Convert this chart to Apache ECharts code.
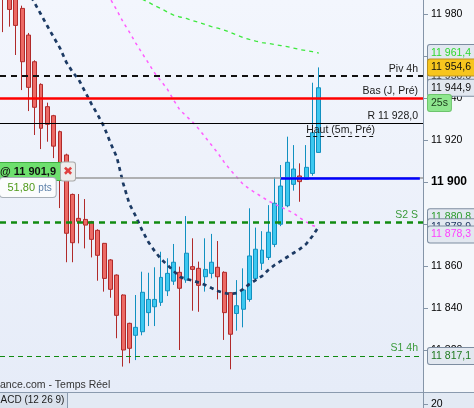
<!DOCTYPE html>
<html><head><meta charset="utf-8">
<script src="https://cdn.jsdelivr.net/npm/echarts@6/dist/echarts.min.js"></script>
<style>html,body{margin:0;padding:0;background:#f4f7fb}#c{width:474px;height:408px}</style>
</head><body><div id="c"></div>
<script>
const FONT = 'Liberation Sans, Arial, sans-serif';
const categories = Array.from({length: 67}, (_, i) => 'b' + i);

const opens  = [11995, 11990, 11988, 11982.7, 11970, 11957.3, 11946.5, 11935.9, 11931.6, 11924, 11912.9, 11894.1, 11882.7, 11882.2, 11881.1, 11877, 11870.8, 11862.9, 11855.7, 11846.2, 11832.7, 11827, 11828.7, 11837.8, 11840.6, 11842.7, 11848.2, 11852.8, 11857, 11853.3, 11859.7, 11858.9, 11854.9, 11856.5, 11859.4, 11857, 11847.3, 11837.4, 11839.4, 11844.1, 11854.1, 11861.3, 11864.1, 11870.3, 11879.9, 11888.7, 11898.9, 11902.9, 11901.3, 11904.1, 11914.1];
const closes = [11990, 11982.2, 11974.6, 11957.3, 11945.1, 11935.6, 11925.6, 11927.5, 11917.1, 11901, 11875.6, 11871.1, 11881.3, 11879.5, 11872.7, 11865.1, 11854.1, 11848.9, 11836.5, 11820, 11820.8, 11830.8, 11847.5, 11844.1, 11844.1, 11854.6, 11856.5, 11861.8, 11849.4, 11866.1, 11858.4, 11850.8, 11858.4, 11861.8, 11854.9, 11837.8, 11827.5, 11841.1, 11848.6, 11864.8, 11868, 11867.6, 11876.1, 11889.9, 11898.1, 11909.4, 11906.2, 11900.2, 11907, 11923.5, 11944.9];
const lows   = [11971.4, 11974, 11960.5, 11943.8, 11933.8, 11922.4, 11915.7, 11919.2, 11911.4, 11887.6, 11861.8, 11861.8, 11870.8, 11868.4, 11864.1, 11853, 11847.8, 11844.9, 11825.6, 11812.1, 11813.7, 11815.2, 11827, 11831.4, 11831.4, 11841, 11845.7, 11851, 11820, 11852, 11838.7, 11838.2, 11847.8, 11854.1, 11844.1, 11824.8, 11810.8, 11829.2, 11830.8, 11843, 11853, 11858.1, 11862.9, 11869, 11879, 11888, 11895.9, 11890.6, 11901, 11903, 11914];
const highs  = [11998, 11992, 11990, 11984, 11971, 11958, 11947, 11937.8, 11932, 11924.5, 11913.5, 11894.5, 11894.3, 11891.9, 11881.5, 11877.5, 11871, 11863.3, 11856, 11846.5, 11833, 11846.2, 11857.3, 11856.8, 11859.4, 11866.8, 11863.7, 11870.5, 11859.7, 11883.8, 11873.2, 11862.1, 11873.2, 11875.3, 11871.9, 11857.5, 11847.5, 11853.3, 11858.9, 11887.5, 11878.3, 11876.6, 11889, 11902.2, 11908.1, 11921.6, 11917.6, 11908.9, 11917.6, 11947.3, 11954.6];

const maNavyStart = 2;
const maNavy = [12001.4, 11996.2, 11990.7, 11985.2, 11979.8, 11974.3, 11969.0, 11963.8, 11957.1, 11952.4, 11948.6, 11942.9, 11937.1, 11931.9, 11926.2, 11918.6, 11911.9, 11899.5, 11889.5, 11883.8, 11877.1, 11871.4, 11867.1, 11863.3, 11860.5, 11857.6, 11854.8, 11853.8, 11853.1, 11852.1, 11851.0, 11849.5, 11848.1, 11847.1, 11846.7, 11847.1, 11849.0, 11851.4, 11853.3, 11855.2, 11858.1, 11860.5, 11862.4, 11864.3, 11866.2, 11868.1, 11870.5, 11874.3, 11878.9];
const maPinkStart = 16;
const maPink = [11992.4, 11987.1, 11981.9, 11976.2, 11971.4, 11966.2, 11961.4, 11956.7, 11951.9, 11948.1, 11944.3, 11939.0, 11934.3, 11931.4, 11928.6, 11925.2, 11921.4, 11917.6, 11913.8, 11909.5, 11905.7, 11902.4, 11899.0, 11896.7, 11894.8, 11892.9, 11891.0, 11889.5, 11888.1, 11886.7, 11885.2, 11882.9, 11881.0, 11879.3, 11878.3];
const maGreenStart = 22;
const maGreen = [11987.1, 11985.7, 11984.0, 11982.6, 11981.0, 11979.5, 11978.6, 11977.9, 11976.9, 11976.0, 11975.0, 11974.0, 11973.3, 11972.4, 11971.2, 11970.0, 11968.8, 11967.9, 11967.1, 11966.4, 11966.0, 11965.5, 11965.0, 11964.5, 11963.8, 11963.1, 11962.6, 11962.1, 11961.4];

const yMin = 11800, yMax = 11986.7, yStep = 20;

const levelPiv4h = 11950.6;
const levelBasJ = 11940.1;
const levelR = 11928.0;
const levelHaut5m = 11921.6;
const levelOrder = 11901.9;
const levelS2 = 11880.8;
const levelS1 = 11817.1;
const hautStartIdx = 48, hautEndIdx = 59, blueStartIdx = 44;
const orderPts = 51.80;
const timerText = '25s';

function fmt(v, d) {
  const s = v.toFixed(d); const parts = s.split('.');
  const ii = parts[0].replace(/\B(?=(\d{3})+(?!\d))/g, ' ');
  return parts[1] ? ii + ',' + parts[1] : ii;
}
function pad(start, arr) { return Array(start).fill('-').concat(arr); }

const lastClose = closes[closes.length - 1];
const lastHigh = highs[highs.length - 1];
const navyEnd = maNavy[maNavy.length - 1];
const pinkEnd = maPink[maPink.length - 1];
const greenEnd = maGreen[maGreen.length - 1];
const PXV = 392 / (yMax - yMin); // px per unit, used only for label stacking
const shift = px => -px / PXV;

const candleData = opens.map((o, i) => [o, closes[i], lows[i], highs[i]]);

const T = 'rgba(0,0,0,0)';
function inLabel(text, pos, color, dist) {
  return {show: true, position: pos, formatter: text, color: color, fontSize: 10.5, fontFamily: FONT, distance: dist};
}
function boxItem(value, text, color, bg, border, dy) {
  return {yAxis: value + (dy ? shift(dy) : 0), lineStyle: {color: T, width: 0},
    label: {show: true, position: 'end', distance: 5, formatter: text, color: color,
      backgroundColor: bg || '#e2e8f0', borderColor: border || '#7d8da0', borderWidth: 1, borderRadius: 2,
      padding: [2, 14, 1, 3], lineHeight: 13, fontSize: 10.5, fontFamily: FONT}};
}

const markData = [
  {yAxis: levelOrder, lineStyle: {color: '#9a9a9a', width: 1.5, type: 'solid'},
    label: {show: true, position: 'insideStartTop', distance: [0, 0], fontFamily: FONT,
      formatter: '{a|@ ' + fmt(levelOrder, 1) + '}{b|\u2716}',
      rich: {
        a: {fontWeight: 'bold', fontSize: 11, color: '#111', backgroundColor: '#6ee06e', borderColor: '#3fae3f', borderWidth: 1, padding: [3, 5, 3, 0], lineHeight: 13},
        b: {fontSize: 12, color: '#e04040', backgroundColor: '#ededed', borderColor: '#a8a8a8', borderWidth: 1, borderRadius: 2, padding: [3, 2, 3, 2], lineHeight: 13}
      }}},
  {yAxis: levelOrder, lineStyle: {color: T, width: 0},
    label: {show: true, position: 'insideStartBottom', distance: [0, 0], fontFamily: FONT,
      formatter: '{g|' + orderPts.toFixed(2).replace('.', ',') + '} {p|pts}',
      backgroundColor: '#fbfcfd', borderColor: '#a8b0b8', borderWidth: 1, borderRadius: 3, padding: [4, 4, 3, 7.5],
      rich: {g: {fontSize: 11, color: '#4f9a1a', lineHeight: 12}, p: {fontSize: 10, color: '#5a7fa8', lineHeight: 12}}}},
  [{coord: [blueStartIdx, levelOrder], lineStyle: {color: '#0000ff', width: 2.5, type: 'solid'}},
   {coord: [categories.length - 1, levelOrder]}],
  {yAxis: levelPiv4h, lineStyle: {color: '#111', width: 2, type: [6, 5]}, label: inLabel('Piv 4h', 'insideEndTop', '#1a1a1a', [5, 1])},
  {yAxis: levelBasJ, lineStyle: {color: '#ff0000', width: 2.5, type: 'solid'}, label: inLabel('Bas (J, Pré)', 'insideEndTop', '#1a1a1a', [5, 1])},
  {yAxis: levelR, lineStyle: {color: '#000', width: 1, type: 'solid'}, label: inLabel('R ' + fmt(levelR, 1), 'insideEndTop', '#1a1a1a', [5, 2])},
  [{coord: [hautStartIdx, levelHaut5m], lineStyle: {color: '#111', width: 1, type: [4, 3]}, label: inLabel('Haut (5m, Pré)', 'insideStartTop', '#1a1a1a', [0, 1])},
   {coord: [hautEndIdx, levelHaut5m]}],
  {yAxis: levelS2, lineStyle: {color: '#118a11', width: 2.5, type: [6, 5]}, label: inLabel('S2 S', 'insideEndTop', '#3a9a3a', [5, 2])},
  {yAxis: levelS1, lineStyle: {color: '#118a11', width: 1.2, type: [5, 4]}, label: inLabel('S1 4h', 'insideEndTop', '#3a9a3a', [5, 2])},
  boxItem(levelPiv4h, fmt(levelPiv4h, 1), '#333'),
  boxItem(greenEnd, fmt(greenEnd, 1), '#2fd82f'),
  boxItem(lastHigh, fmt(lastHigh, 1), '#111', '#f7c51e', '#b89020'),
  boxItem(lastClose, fmt(lastClose, 1), '#111'),
  boxItem(lastClose, timerText, '#1a3a1a', '#8ee68e', '#6cc46c', 15.2),
  boxItem(levelS2, fmt(levelS2, 1), '#2c9c2c', null, null, -5),
  boxItem(navyEnd, fmt(navyEnd, 1), '#1d3560', null, null, 1),
  boxItem(pinkEnd, fmt(pinkEnd, 1), '#ff40ff', null, null, 7),
  boxItem(levelS1, fmt(levelS1, 1), '#1f7a1f')
];
markData[13].label.padding = [2, 3, 1, 3];

const chart = echarts.init(document.getElementById('c'), null, {renderer: 'canvas'});
chart.setOption({
  animation: false,
  backgroundColor: '#f4f7fb',
  grid: {left: -1.8, right: 51, top: 0, bottom: 16, show: true, borderWidth: 0,
    backgroundColor: {type: 'linear', x: 0, y: 0, x2: 0, y2: 1, colorStops: [{offset: 0, color: '#f3f6fd'}, {offset: 1, color: '#e6ecf8'}]}},
  xAxis: {type: 'category', data: categories, boundaryGap: true,
    axisLine: {show: false}, axisTick: {show: false}, axisLabel: {show: false}, splitLine: {show: false}},
  yAxis: {type: 'value', position: 'right', min: yMin, max: yMax, interval: yStep,
    axisLine: {show: true, lineStyle: {color: '#8595a8'}},
    axisTick: {show: true, length: 5, lineStyle: {color: '#8595a8'}},
    splitLine: {show: false},
    axisLabel: {margin: 8, showMinLabel: false, showMaxLabel: false, color: '#000', fontSize: 10.5, fontFamily: FONT,
      formatter: v => (v % 100 === 0 ? '{b|' + fmt(v, 0) + '}' : fmt(v, 0)),
      rich: {b: {fontWeight: 'bold', fontSize: 12, color: '#000', fontFamily: FONT}}}},
  series: [
    {type: 'candlestick', data: candleData, clip: true, barWidth: 4.4,
      itemStyle: {color: '#3cc8f0', color0: '#ec6a65', borderColor: '#1190c0', borderColor0: '#b02a2a', borderWidth: 1},
      markLine: {silent: true, symbol: ['none', 'none'], animation: false, z: 5, label: {show: false}, data: markData}},
    {type: 'line', data: pad(maGreenStart, maGreen), symbol: 'none', clip: true, z: 3,
      lineStyle: {color: '#3ee83e', width: 1.3, type: [4, 4]}},
    {type: 'line', data: pad(maPinkStart, maPink), symbol: 'none', clip: true, z: 3,
      lineStyle: {color: '#ff5cff', width: 1.5, type: [3, 4]}},
    {type: 'line', data: pad(maNavyStart, maNavy), symbol: 'none', clip: true, z: 3,
      lineStyle: {color: '#1c3a64', width: 2.7, type: [4, 4]}}
  ],
  graphic: [
    {type: 'text', left: 0, top: 380, z: 10, style: {text: 'ance.com - Temps Réel', font: '10.5px ' + FONT, fill: '#333'}},
    {type: 'rect', z: 10, shape: {x: 0, y: 392, width: 474, height: 16}, style: {fill: '#e3eaf4'}},
    {type: 'line', z: 11, shape: {x1: 0, y1: 392.5, x2: 474, y2: 392.5}, style: {stroke: '#8a9aae', lineWidth: 1}},
    {type: 'line', z: 11, shape: {x1: 423.5, y1: 392, x2: 423.5, y2: 408}, style: {stroke: '#8595a8', lineWidth: 1}},
    {type: 'line', z: 11, shape: {x1: 423, y1: 404.5, x2: 428, y2: 404.5}, style: {stroke: '#8595a8', lineWidth: 1}},
    {type: 'text', z: 11, x: 431, y: 404.5, style: {text: '20', font: '10.5px ' + FONT, fill: '#000', verticalAlign: 'middle'}},
    {type: 'rect', z: 11, shape: {x: -1, y: 392.5, width: 68.5, height: 17}, style: {fill: '#d9e1ec', stroke: '#8a9aae', lineWidth: 1}},
    {type: 'text', z: 12, x: 0.5, y: 400.5, style: {text: 'ACD (12 26 9)', font: '10px ' + FONT, fill: '#1a1a1a', verticalAlign: 'middle'}}
  ]
});
</script></body></html>
